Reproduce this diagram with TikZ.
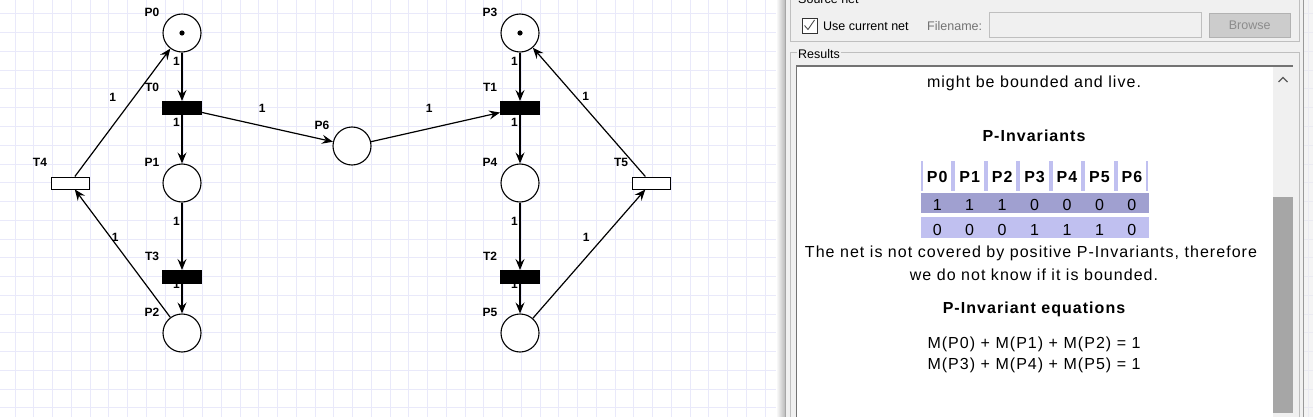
\documentclass[tikz,border=0pt]{standalone}
\usepackage{fontspec}
\setmainfont{Liberation Sans}
\newfontfamily\resfont[LetterSpace=6.5]{Liberation Sans}
\usepackage{tikz}
\usetikzlibrary{
        arrows.meta,
        backgrounds,
        positioning
    }
\definecolor{gridline}{RGB}{233,233,250}
\definecolor{panelbg}{RGB}{240,240,240}
\definecolor{rowdark}{RGB}{160,160,208}
\definecolor{rowlight}{RGB}{192,192,240}
\definecolor{thumb}{RGB}{166,166,166}
\tikzset{>={Stealth[length=11pt,width=9pt,inset=4pt]}}
\tikzset{
        place/.style={circle,draw,line width=1.1pt,fill=white,minimum size=38pt,inner sep=0pt},
        trans/.style={rectangle,draw,line width=1pt,fill=black,minimum width=39pt,minimum height=13pt,inner sep=0pt},
        itrans/.style={trans,fill=white,minimum width=38pt,minimum height=12pt},
        nm/.style={font=\fontsize{12}{14}\selectfont\bfseries,inner sep=0pt,xshift=-30pt,yshift=21pt},
        wt/.style={font=\fontsize{12}{14}\selectfont\bfseries,inner sep=1.5pt},
        arc/.style={->,line width=1.2pt},
        gui/.style={font=\fontsize{12.5}{14}\selectfont,inner sep=1pt},
        res/.style={font=\resfont\fontsize{16}{19}\selectfont,inner sep=0pt,anchor=base},
        resb/.style={res,font=\resfont\fontsize{16}{19}\selectfont\bfseries}
}

\begin{document}
\begin{tikzpicture}[x=1pt,y=-1pt]
                \useasboundingbox (0,0) rectangle (1313,417);
                \clip (0,0) rectangle (1313,417);
                % background grid
                \begin{scope}[on background layer]
                        \foreach \k in {0,...,69}
                                \draw[gridline,line width=1pt] ({15+18.75*\k},0) -- ({15+18.75*\k},417);
                        \foreach \k in {0,...,21}
                                \draw[gridline,line width=1pt] (0,{14+18.75*\k}) -- (1313,{14+18.75*\k});
                \end{scope}

                % places and transitions
                \node[place,label={[nm]center:P0}] (p0) at (182,33)  {};
                \node[trans,label={[nm]center:T0}] (t0) at (182,108) {};
                \node[place,label={[nm]center:P1}] (p1) at (182,183) {};
                \node[trans,label={[nm]center:T3}] (t3) at (182,277) {};
                \node[place,label={[nm]center:P2}] (p2) at (182,333) {};
                \node[itrans,label={[nm]center:T4}] (t4) at (70,183) {};
                \node[place,label={[nm]center:P6}] (p6) at (352,146) {};
                \node[place,label={[nm]center:P3}] (p3) at (520,33)  {};
                \node[trans,label={[nm]center:T1}] (t1) at (520,108) {};
                \node[place,label={[nm]center:P4}] (p4) at (520,183) {};
                \node[trans,label={[nm]center:T2}] (t2) at (520,277) {};
                \node[place,label={[nm]center:P5}] (p5) at (520,333) {};
                \node[itrans,label={[nm]center:T5}] (t5) at (651,183) {};
                \fill (p0.center) circle (2.6pt);
                \fill (p3.center) circle (2.6pt);

                \begin{scope}[on background layer]
                \path[arc]
                        (p0) edge node[wt,left,pos=0.18] (w0) {1} (t0)
                        (t0) edge node[wt,left,pos=0.16] (w1) {1} (p1)
                        (p1) edge node[wt,left,pos=0.28] (w2) {1} (t3)
                        (t3) edge node[wt,left,pos=0.02] (w3) {1} (p2)
                        (p2) edge node[wt,pos=0.61,xshift=3.2pt,yshift=2.4pt] (w4) {1} (t4)
                        (t4) edge node[wt,pos=0.54,xshift=-13.6pt,yshift=10.2pt] (w5) {1} (p0)
                        (t0) edge node[wt,pos=0.43,xshift=3.8pt,yshift=17.1pt] (w6) {1} (p6)
                        (p6) edge node[wt,pos=0.485,xshift=-4.4pt,yshift=19.6pt] (w7) {1} (t1)
                        (p3) edge node[wt,left,pos=0.18] (w8) {1} (t1)
                        (t1) edge node[wt,left,pos=0.16] (w9) {1} (p4)
                        (p4) edge node[wt,left,pos=0.28] (w10) {1} (t2)
                        (t2) edge node[wt,left,pos=0.02] (w11) {1} (p5)
                        (p5) edge node[wt,pos=0.56,xshift=-9.6pt,yshift=8.4pt] (w12) {1} (t5)
                        (t5) edge node[wt,pos=0.58,xshift=5.7pt,yshift=5pt] (w13) {1} (p3)
                ;
                \end{scope}

                % analysis panel
                \shade[left color=white,right color=gray!55] (776,0) rectangle (785,417);
                \fill[panelbg] (785,0) rectangle (1303,417);
                \draw[gray!70] (785.5,0) -- (785.5,417);
                \draw[gray!80] (1303.5,0) -- (1303.5,417);
                \fill[gray!15,opacity=.6] (1304,0) rectangle (1313,417);
                \draw[gray!50] (790.5,-1) rectangle (1299.5,41.5);
                \node[gui,fill=panelbg,anchor=west] (srchd) at (797,-1) {Source net};
                \node[draw=black!80,fill=white,minimum size=15pt,inner sep=0pt] (chk) at (809.5,25.5) {};
                \draw[black!70,line width=0.9pt] (804.5,25.5) -- (808,29.5) -- (814.5,20);
                \node[gui,anchor=west] (usecur) at (822,26) {Use current net};
                \node[gui,text=black!55,anchor=west] (fname) at (926,26) {Filename:};
                \node[draw=gray!50,fill=panelbg,minimum width=212pt,minimum height=25pt,inner sep=0pt,anchor=north west] (fnbox) at (989,12) {};
                \node[gui,draw=black!30,fill=black!20,text=black!45,minimum width=81pt,minimum height=24pt,inner sep=0pt,anchor=north west] (browse) at (1209,13) {Browse};
                \draw[gray!50] (790.5,52.5) rectangle (1299.5,430);
                \node[gui,fill=panelbg,anchor=west] (reshd) at (797,54) {Results};

                % results text area
                \fill[white] (797,66) rectangle (1293,417);
                \draw[black!55,line width=1.5pt] (796,66) -- (1293,66);
                \draw[black!55,line width=1.2pt] (796.5,66) -- (796.5,417);
                \fill[panelbg] (1273,67) rectangle (1293,417);
                \fill[thumb] (1273,197) rectangle (1293,413);
                \draw[black!65,line width=1.3pt] (1278.5,82) -- (1283,77.5) -- (1287.5,82);

                \node[res] (live) at (1034,87.3) {might be bounded and live.};
                \node[resb] (pinvhd) at (1034,141.7) {P-Invariants};
                \foreach \i in {0,...,6} {
                        \draw[rowlight,line width=2pt] ({922+32.45*\i},161) -- ({922+32.45*\i},190.5);
                        \draw[rowlight,line width=2pt] ({952.4+32.45*\i},161) -- ({952.4+32.45*\i},190.5);
                        \node[resb] (h\i) at ({937.2+32.45*\i},182.4) {P\i};
                }
                \fill[rowdark] (921,193) rectangle (1148.5,213.4);
                \fill[rowlight] (921,217) rectangle (1148.5,237.6);
                \foreach \v [count=\i from 0] in {1,1,1,0,0,0,0}
                        \node[res] (a\i) at ({937.2+32.45*\i},210.7) {\v};
                \foreach \v [count=\i from 0] in {0,0,0,1,1,1,0}
                        \node[res] (b\i) at ({937.2+32.45*\i},235) {\v};
                \node[res] (cov1) at (1031,257.8) {The net is not covered by positive P-Invariants, therefore};
                \node[res] (cov2) at (1034,280.4) {we do not know if it is bounded.};
                \node[resb] (eqhd) at (1034,313) {P-Invariant equations};
                \node[res] (eq1) at (1034,348.5) {M(P0) + M(P1) + M(P2) = 1};
                \node[res] (eq2) at (1034,369.3) {M(P3) + M(P4) + M(P5) = 1};
\end{tikzpicture}
\end{document}
